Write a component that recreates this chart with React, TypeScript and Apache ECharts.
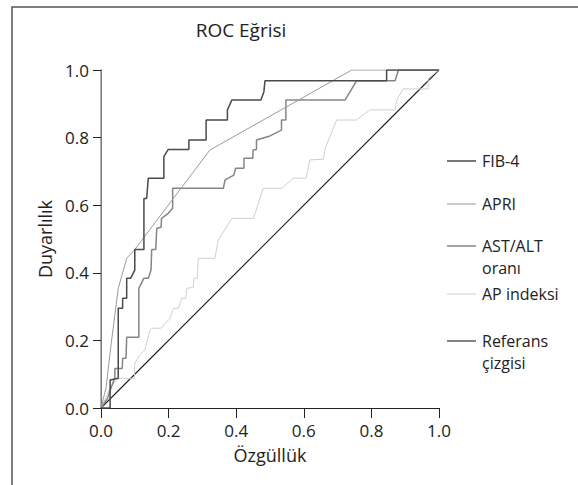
import React, { useEffect, useRef } from "react";
import * as echarts from "echarts";

const seriesNames = ["FIB-4", "APRI", "AST/ALT oranı", "AP indeksi", "Referans çizgisi"];
const legendLabels = [["FIB-4"], ["APRI"], ["AST/ALT", "oranı"], ["AP indeksi"], ["Referans", "çizgisi"]];

const fib4: [number, number][] = [
  [0, 0], [0.027, 0], [0.027, 0.083], [0.051, 0.088], [0.051, 0.295], [0.064, 0.295],
  [0.064, 0.325], [0.076, 0.325], [0.076, 0.384], [0.088, 0.384], [0.1, 0.408],
  [0.1, 0.469], [0.127, 0.469], [0.127, 0.62], [0.135, 0.62], [0.14, 0.68],
  [0.186, 0.68], [0.186, 0.744], [0.199, 0.765], [0.26, 0.765], [0.26, 0.793],
  [0.311, 0.793], [0.311, 0.852], [0.374, 0.852], [0.374, 0.882], [0.387, 0.911],
  [0.473, 0.911], [0.482, 0.936], [0.485, 0.968], [0.845, 0.968], [0.845, 1.0], [1, 1],
];

const apri: [number, number][] = [
  [0, 0], [0.015, 0.06], [0.029, 0.181], [0.051, 0.354], [0.076, 0.443], [0.1, 0.469],
  [0.322, 0.763], [0.742, 1.0], [1, 1],
];

const astAlt: [number, number][] = [
  [0, 0], [0.02, 0.03], [0.03, 0.06], [0.041, 0.09], [0.041, 0.117], [0.063, 0.117],
  [0.064, 0.147], [0.074, 0.147], [0.076, 0.209], [0.112, 0.209], [0.112, 0.354],
  [0.127, 0.384], [0.14, 0.384], [0.148, 0.408], [0.15, 0.469], [0.162, 0.469],
  [0.165, 0.532], [0.178, 0.535], [0.179, 0.561], [0.199, 0.576], [0.212, 0.591],
  [0.212, 0.65], [0.362, 0.65], [0.367, 0.675], [0.393, 0.689], [0.398, 0.709],
  [0.423, 0.709], [0.423, 0.739], [0.449, 0.739], [0.45, 0.763], [0.46, 0.765],
  [0.46, 0.793], [0.5, 0.805], [0.534, 0.822], [0.534, 0.852], [0.547, 0.852],
  [0.547, 0.911], [0.722, 0.911], [0.756, 0.968], [0.87, 0.968], [0.88, 1.0], [1, 1],
];

const apIndex: [number, number][] = [
  [0, 0], [0.029, 0.063], [0.051, 0.088], [0.099, 0.088], [0.1, 0.132], [0.115, 0.157],
  [0.13, 0.172], [0.145, 0.231], [0.15, 0.236], [0.177, 0.236], [0.204, 0.265],
  [0.214, 0.295], [0.229, 0.295], [0.239, 0.325], [0.251, 0.325], [0.254, 0.354],
  [0.273, 0.357], [0.275, 0.384], [0.285, 0.384], [0.288, 0.443], [0.337, 0.443],
  [0.347, 0.497], [0.387, 0.561], [0.451, 0.561], [0.48, 0.65], [0.535, 0.65],
  [0.569, 0.68], [0.607, 0.68], [0.618, 0.734], [0.658, 0.736], [0.663, 0.768],
  [0.697, 0.852], [0.756, 0.852], [0.796, 0.882], [0.87, 0.882], [0.875, 0.911],
  [0.894, 0.944], [0.968, 0.944], [0.968, 0.975], [1, 1],
];

const reference: [number, number][] = [[0, 0], [1, 1]];

const seriesData = [fib4, apri, astAlt, apIndex, reference];

export default function App() {
  const ref = useRef<HTMLDivElement>(null);
  useEffect(() => {
    if (!ref.current) return;
    const chart = echarts.init(ref.current, undefined, { renderer: "svg" });
    const font = "'Open Sans', 'Noto Sans', sans-serif";
    const colors = ["#4a4a4a", "#9a9a9a", "#858585", "#cfcfcf", "#1e1e1e"];
    const widths = [1.5, 1, 1.5, 1, 1.1];
    const gridLeft = 101, gridTop = 70, gridW = 338, gridH = 338;
    const legendY = [161, 204, 246, 294, 341];

    const legendGraphics: any[] = [];
    seriesNames.forEach((_, i) => {
      legendGraphics.push({
        type: "line",
        shape: { x1: 447, y1: legendY[i], x2: 476, y2: legendY[i] },
        style: { stroke: colors[i], lineWidth: widths[i] },
      });
      legendLabels[i].forEach((line, j) => {
        legendGraphics.push({
          type: "text",
          x: 482,
          y: legendY[i] + j * 22,
          style: {
            text: line,
            font: `16px ${font}`,
            fill: "#222",
            verticalAlign: "middle",
          },
        });
      });
    });

    chart.setOption({
      animation: false,
      title: {
        text: "ROC Eğrisi",
        left: 236,
        top: 15,
        textAlign: "center",
        textStyle: { fontFamily: font, fontSize: 19, fontWeight: "normal", color: "#222" },
      },
      grid: { left: gridLeft, top: gridTop, width: gridW, height: gridH },
      xAxis: [
        {
          type: "value",
          min: 0,
          max: 1,
          interval: 0.2,
          name: "Özgüllük",
          nameLocation: "middle",
          nameGap: 38,
          nameTextStyle: { fontFamily: font, fontSize: 18, color: "#222" },
          axisLine: { show: true, lineStyle: { color: "#222", width: 1 } },
          axisTick: { show: true, length: 10, lineStyle: { color: "#222" } },
          axisLabel: {
            fontFamily: font,
            fontSize: 17,
            color: "#222",
            margin: 14,
            formatter: (v: number) => v.toFixed(1),
          },
          splitLine: { show: false },
        },
        {
          type: "value",
          position: "top",
          min: 0,
          max: 1,
          axisLine: { show: true, lineStyle: { color: "#222", width: 1 } },
          axisTick: { show: false },
          axisLabel: { show: false },
          splitLine: { show: false },
        },
      ],
      yAxis: [
        {
          type: "value",
          min: 0,
          max: 1,
          interval: 0.2,
          name: "Duyarlılık",
          nameLocation: "middle",
          nameGap: 46,
          nameTextStyle: { fontFamily: font, fontSize: 18, color: "#222" },
          axisLine: { show: true, lineStyle: { color: "#222", width: 1 } },
          axisTick: { show: true, length: 8, lineStyle: { color: "#222" } },
          axisLabel: {
            fontFamily: font,
            fontSize: 17,
            color: "#222",
            margin: 12,
            formatter: (v: number) => v.toFixed(1),
          },
          splitLine: { show: false },
        },
        {
          type: "value",
          position: "right",
          min: 0,
          max: 1,
          axisLine: { show: true, lineStyle: { color: "#999", width: 1.5 } },
          axisTick: { show: false },
          axisLabel: { show: false },
          splitLine: { show: false },
        },
      ],
      series: seriesNames.map((name, i) => ({
        name,
        type: "line",
        data: seriesData[i],
        showSymbol: false,
        symbol: "none",
        lineStyle: { color: colors[i], width: widths[i] },
        z: 10 - i,
      })),
      graphic: [
        {
          type: "rect",
          shape: { x: 12, y: 7, width: 700, height: 600 },
          style: { fill: "none", stroke: "#555", lineWidth: 1.5 },
          silent: true,
        },
        ...legendGraphics,
      ],
    });
    return () => chart.dispose();
  }, []);
  return (
    <div
      ref={ref}
      style={{ position: "fixed", left: 0, top: 0, width: 578, height: 485, background: "#fff" }}
    />
  );
}
